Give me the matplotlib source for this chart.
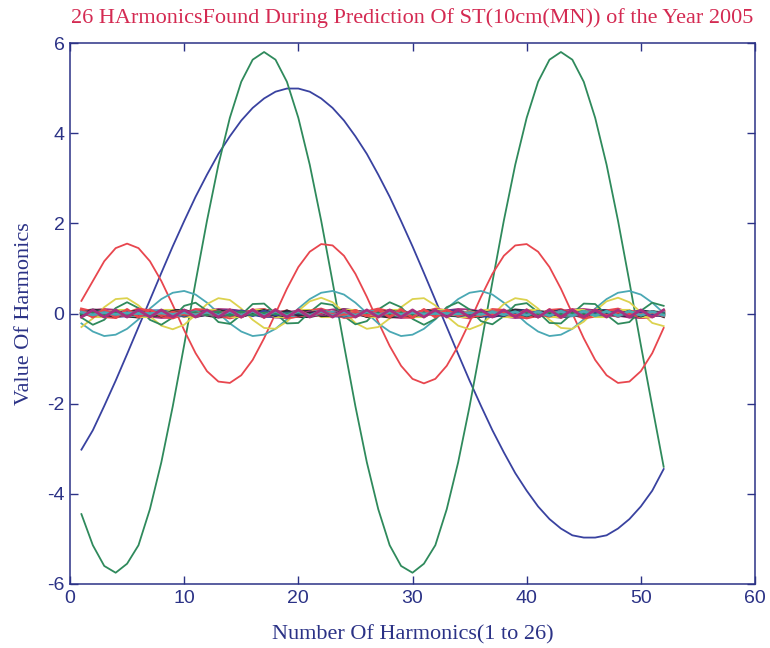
import matplotlib
matplotlib.use('Agg')
import matplotlib.pyplot as plt

# values of each harmonic at points 1..52
h1 = [-3.02, -2.59, -2.05, -1.49, -0.90, -0.30, 0.30, 0.90, 1.49, 2.05, 2.59, 3.08, 3.54,
      3.93, 4.28, 4.56, 4.77, 4.92, 4.99, 4.99, 4.92, 4.77, 4.56, 4.28, 3.93, 3.54,
      3.08, 2.59, 2.05, 1.49, 0.90, 0.30, -0.30, -0.90, -1.49, -2.05, -2.59, -3.08, -3.54,
      -3.93, -4.28, -4.56, -4.77, -4.92, -4.97, -4.97, -4.92, -4.77, -4.56, -4.28, -3.93, -3.45]
h2 = [-4.45, -5.14, -5.60, -5.75, -5.55, -5.14, -4.34, -3.30, -2.06, -0.70, 0.70, 2.06, 3.30,
      4.34, 5.14, 5.63, 5.80, 5.63, 5.14, 4.34, 3.30, 2.06, 0.70, -0.70, -2.06, -3.30,
      -4.34, -5.14, -5.60, -5.75, -5.55, -5.14, -4.34, -3.30, -2.06, -0.70, 0.70, 2.06, 3.30,
      4.34, 5.14, 5.63, 5.80, 5.63, 5.14, 4.34, 3.30, 2.06, 0.70, -0.70, -2.06, -3.40]
h3 = [0.28, 0.72, 1.16, 1.45, 1.55, 1.45, 1.16, 0.72, 0.19, -0.37, -0.88, -1.28, -1.51,
      -1.54, -1.37, -1.03, -0.55, 0.00, 0.55, 1.03, 1.37, 1.54, 1.51, 1.28, 0.88, 0.37,
      -0.19, -0.72, -1.16, -1.45, -1.55, -1.45, -1.16, -0.72, -0.19, 0.37, 0.88, 1.28, 1.51,
      1.54, 1.37, 1.03, 0.55, 0.00, -0.55, -1.03, -1.37, -1.54, -1.51, -1.28, -0.88, -0.32]
h4 = [-0.22, -0.40, -0.50, -0.47, -0.34, -0.13, 0.11, 0.32, 0.46, 0.50, 0.42, 0.24, 0.01,
      -0.22, -0.40, -0.50, -0.47, -0.34, -0.13, 0.11, 0.32, 0.46, 0.50, 0.42, 0.24, 0.01,
      -0.22, -0.40, -0.50, -0.47, -0.34, -0.13, 0.11, 0.32, 0.46, 0.50, 0.42, 0.24, 0.01,
      -0.22, -0.40, -0.50, -0.47, -0.34, -0.13, 0.11, 0.32, 0.46, 0.50, 0.42, 0.24, 0.01]
h5 = [0.04, 0.08, 0.10, 0.08, 0.04, -0.02, -0.07, -0.10, -0.09, -0.05, 0.01, 0.07, 0.10,
      0.09, 0.06, 0.00, -0.06, -0.09, -0.10, -0.07, -0.01, 0.05, 0.09, 0.10, 0.07, 0.02,
      -0.04, -0.08, -0.10, -0.08, -0.04, 0.02, 0.07, 0.10, 0.09, 0.05, -0.01, -0.07, -0.10,
      -0.09, -0.06, 0.00, 0.06, 0.09, 0.10, 0.07, 0.01, -0.05, -0.09, -0.10, -0.07, -0.02]
h6 = [-0.30, -0.11, 0.14, 0.32, 0.34, 0.18, -0.06, -0.27, -0.35, -0.25, -0.03, 0.21, 0.34,
      0.30, 0.11, -0.14, -0.32, -0.34, -0.18, 0.06, 0.27, 0.35, 0.25, 0.03, -0.21, -0.34,
      -0.30, -0.11, 0.14, 0.32, 0.34, 0.18, -0.06, -0.27, -0.35, -0.25, -0.03, 0.21, 0.34,
      0.30, 0.11, -0.14, -0.32, -0.34, -0.18, 0.06, 0.27, 0.35, 0.25, 0.03, -0.21, -0.28]
h7 = [0.06, 0.09, 0.06, -0.01, -0.07, -0.09, -0.04, 0.03, 0.08, 0.08, 0.02, -0.05, -0.09,
      -0.07, 0.00, 0.07, 0.09, 0.05, -0.02, -0.08, -0.08, -0.03, 0.04, 0.09, 0.07, 0.01,
      -0.06, -0.09, -0.06, 0.01, 0.07, 0.09, 0.04, -0.03, -0.08, -0.08, -0.02, 0.05, 0.09,
      0.07, 0.00, -0.07, -0.09, -0.05, 0.02, 0.08, 0.08, 0.03, -0.04, -0.09, -0.07, -0.01]
h8 = [0.08, 0.05, -0.03, -0.08, -0.06, 0.01, 0.07, 0.07, 0.01, -0.06, -0.08, -0.03, 0.05,
      0.08, 0.05, -0.03, -0.08, -0.06, 0.01, 0.07, 0.07, 0.01, -0.06, -0.08, -0.03, 0.05,
      0.08, 0.05, -0.03, -0.08, -0.06, 0.01, 0.07, 0.07, 0.01, -0.06, -0.08, -0.03, 0.05,
      0.08, 0.05, -0.03, -0.08, -0.06, 0.01, 0.07, 0.07, 0.01, -0.06, -0.08, -0.03, 0.05]
h9 = [-0.09, -0.25, -0.14, 0.12, 0.25, 0.12, -0.14, -0.25, -0.09, 0.17, 0.24, 0.06, -0.19,
      -0.23, -0.03, 0.21, 0.22, 0.00, -0.22, -0.21, 0.03, 0.23, 0.19, -0.06, -0.24, -0.17,
      0.09, 0.25, 0.14, -0.12, -0.25, -0.12, 0.14, 0.25, 0.09, -0.17, -0.24, -0.06, 0.19,
      0.23, 0.03, -0.21, -0.22, 0.00, 0.22, 0.21, -0.03, -0.23, -0.19, 0.06, 0.24, 0.17]
h10 = [0.10, 0.04, -0.07, -0.09, 0.01, 0.10, 0.06, -0.06, -0.10, -0.01, 0.09, 0.07, -0.04,
       -0.10, -0.04, 0.07, 0.09, -0.01, -0.10, -0.06, 0.06, 0.10, 0.01, -0.09, -0.07, 0.04,
       0.10, 0.04, -0.07, -0.09, 0.01, 0.10, 0.06, -0.06, -0.10, -0.01, 0.09, 0.07, -0.04,
       -0.10, -0.04, 0.07, 0.09, -0.01, -0.10, -0.06, 0.06, 0.10, 0.01, -0.09, -0.07, 0.04]
h11 = [-0.05, 0.01, 0.06, 0.01, -0.05, -0.04, 0.03, 0.06, -0.01, -0.06, -0.02, 0.05, 0.04,
       -0.03, -0.06, 0.00, 0.06, 0.03, -0.04, -0.05, 0.02, 0.06, 0.01, -0.06, -0.03, 0.04,
       0.05, -0.01, -0.06, -0.01, 0.05, 0.04, -0.03, -0.06, 0.01, 0.06, 0.02, -0.05, -0.04,
       0.03, 0.06, 0.00, -0.06, -0.03, 0.04, 0.05, -0.02, -0.06, -0.01, 0.06, 0.03, -0.04]
h12 = [0.01, 0.05, 0.01, -0.05, -0.02, 0.04, 0.03, -0.04, -0.04, 0.03, 0.04, -0.02, -0.05,
       0.01, 0.05, 0.01, -0.05, -0.02, 0.04, 0.03, -0.04, -0.04, 0.03, 0.04, -0.02, -0.05,
       0.01, 0.05, 0.01, -0.05, -0.02, 0.04, 0.03, -0.04, -0.04, 0.03, 0.04, -0.02, -0.05,
       0.01, 0.05, 0.01, -0.05, -0.02, 0.04, 0.03, -0.04, -0.04, 0.03, 0.04, -0.02, -0.05]
h13 = [0.07, -0.07, -0.07, 0.07, 0.07, -0.07, -0.07, 0.07, 0.07, -0.07, -0.07, 0.07, 0.07,
       -0.07, -0.07, 0.07, 0.07, -0.07, -0.07, 0.07, 0.07, -0.07, -0.07, 0.07, 0.07, -0.07,
       -0.07, 0.07, 0.07, -0.07, -0.07, 0.07, 0.07, -0.07, -0.07, 0.07, 0.07, -0.07, -0.07,
       0.07, 0.07, -0.07, -0.07, 0.07, 0.07, -0.07, -0.07, 0.07, 0.07, -0.07, -0.07, 0.07]
h14 = [-0.01, 0.07, -0.01, -0.07, 0.02, 0.06, -0.04, -0.05, 0.05, 0.04, -0.06, -0.02, 0.07,
       0.01, -0.07, 0.01, 0.07, -0.02, -0.06, 0.04, 0.05, -0.05, -0.04, 0.06, 0.02, -0.07,
       -0.01, 0.07, -0.01, -0.07, 0.02, 0.06, -0.04, -0.05, 0.05, 0.04, -0.06, -0.02, 0.07,
       0.01, -0.07, 0.01, 0.07, -0.02, -0.06, 0.04, 0.05, -0.05, -0.04, 0.06, 0.02, -0.07]
h15 = [0.05, 0.01, -0.06, 0.01, 0.05, -0.04, -0.03, 0.06, 0.01, -0.06, 0.02, 0.05, -0.04,
       -0.03, 0.06, 0.00, -0.06, 0.03, 0.04, -0.05, -0.02, 0.06, -0.01, -0.06, 0.03, 0.04,
       -0.05, -0.01, 0.06, -0.01, -0.05, 0.04, 0.03, -0.06, -0.01, 0.06, -0.02, -0.05, 0.04,
       0.03, -0.06, 0.00, 0.06, -0.03, -0.04, 0.05, 0.02, -0.06, 0.01, 0.06, -0.03, -0.04]
h16 = [-0.05, 0.02, 0.04, -0.04, -0.01, 0.05, -0.03, -0.03, 0.05, -0.01, -0.04, 0.04, 0.02,
       -0.05, 0.02, 0.04, -0.04, -0.01, 0.05, -0.03, -0.03, 0.05, -0.01, -0.04, 0.04, 0.02,
       -0.05, 0.02, 0.04, -0.04, -0.01, 0.05, -0.03, -0.03, 0.05, -0.01, -0.04, 0.04, 0.02,
       -0.05, 0.02, 0.04, -0.04, -0.01, 0.05, -0.03, -0.03, 0.05, -0.01, -0.04, 0.04, 0.02]
h17 = [0.03, -0.07, 0.04, 0.03, -0.07, 0.03, 0.04, -0.07, 0.03, 0.05, -0.07, 0.02, 0.05,
       -0.06, 0.01, 0.06, -0.06, 0.00, 0.06, -0.06, -0.01, 0.06, -0.05, -0.02, 0.07, -0.05,
       -0.03, 0.07, -0.04, -0.03, 0.07, -0.03, -0.04, 0.07, -0.03, -0.05, 0.07, -0.02, -0.05,
       0.06, -0.01, -0.06, 0.06, 0.00, -0.06, 0.06, 0.01, -0.06, 0.05, 0.02, -0.07, 0.05]
h18 = [-0.04, 0.02, 0.01, -0.04, 0.03, 0.00, -0.04, 0.04, 0.00, -0.03, 0.04, -0.01, -0.02,
       0.04, -0.02, -0.01, 0.04, -0.03, 0.00, 0.04, -0.04, 0.00, 0.03, -0.04, 0.01, 0.02,
       -0.04, 0.02, 0.01, -0.04, 0.03, 0.00, -0.04, 0.04, 0.00, -0.03, 0.04, -0.01, -0.02,
       0.04, -0.02, -0.01, 0.04, -0.03, 0.00, 0.04, -0.04, 0.00, 0.03, -0.04, 0.01, 0.02]
h19 = [-0.03, 0.05, -0.03, -0.01, 0.04, -0.05, 0.02, 0.02, -0.04, 0.04, -0.01, -0.03, 0.05,
       -0.04, 0.00, 0.04, -0.05, 0.03, 0.01, -0.04, 0.04, -0.02, -0.02, 0.05, -0.04, 0.01,
       0.03, -0.05, 0.03, 0.01, -0.04, 0.05, -0.02, -0.02, 0.04, -0.04, 0.01, 0.03, -0.05,
       0.04, 0.00, -0.04, 0.05, -0.03, -0.01, 0.04, -0.04, 0.02, 0.02, -0.05, 0.04, -0.01]
h20 = [0.03, -0.01, -0.02, 0.04, -0.04, 0.02, 0.01, -0.03, 0.04, -0.03, 0.00, 0.02, -0.04,
       0.03, -0.01, -0.02, 0.04, -0.04, 0.02, 0.01, -0.03, 0.04, -0.03, 0.00, 0.02, -0.04,
       0.03, -0.01, -0.02, 0.04, -0.04, 0.02, 0.01, -0.03, 0.04, -0.03, 0.00, 0.02, -0.04,
       0.03, -0.01, -0.02, 0.04, -0.04, 0.02, 0.01, -0.03, 0.04, -0.03, 0.00, 0.02, -0.04]
h21 = [-0.02, 0.05, -0.06, 0.05, -0.02, -0.01, 0.04, -0.06, 0.05, -0.03, -0.01, 0.04, -0.06,
       0.05, -0.04, 0.00, 0.04, -0.05, 0.06, -0.04, 0.01, 0.03, -0.05, 0.06, -0.04, 0.01,
       0.02, -0.05, 0.06, -0.05, 0.02, 0.01, -0.04, 0.06, -0.05, 0.03, 0.01, -0.04, 0.06,
       -0.05, 0.04, 0.00, -0.04, 0.05, -0.06, 0.04, -0.01, -0.03, 0.05, -0.06, 0.04, -0.01]
h22 = [0.02, -0.04, 0.05, -0.05, 0.03, -0.01, -0.01, 0.03, -0.05, 0.05, -0.04, 0.02, 0.00,
       -0.02, 0.04, -0.05, 0.05, -0.03, 0.01, 0.01, -0.03, 0.05, -0.05, 0.04, -0.02, 0.00,
       0.02, -0.04, 0.05, -0.05, 0.03, -0.01, -0.01, 0.03, -0.05, 0.05, -0.04, 0.02, 0.00,
       -0.02, 0.04, -0.05, 0.05, -0.03, 0.01, 0.01, -0.03, 0.05, -0.05, 0.04, -0.02, 0.00]
h23 = [0.00, 0.02, -0.03, 0.04, -0.04, 0.04, -0.03, 0.02, 0.00, -0.01, 0.02, -0.03, 0.04,
       -0.04, 0.04, -0.03, 0.01, 0.00, -0.01, 0.03, -0.04, 0.04, -0.04, 0.03, -0.02, 0.01,
       0.00, -0.02, 0.03, -0.04, 0.04, -0.04, 0.03, -0.02, 0.00, 0.01, -0.02, 0.03, -0.04,
       0.04, -0.04, 0.03, -0.01, 0.00, 0.01, -0.03, 0.04, -0.04, 0.04, -0.03, 0.02, -0.01]
h24 = [0.08, -0.08, 0.09, -0.09, 0.09, -0.08, 0.08, -0.05, 0.03, -0.02, -0.02, 0.03, -0.05,
       0.08, -0.08, 0.09, -0.09, 0.09, -0.08, 0.08, -0.05, 0.03, -0.02, -0.02, 0.03, -0.05,
       0.08, -0.08, 0.09, -0.09, 0.09, -0.08, 0.08, -0.05, 0.03, -0.02, -0.02, 0.03, -0.05,
       0.08, -0.08, 0.09, -0.09, 0.09, -0.08, 0.08, -0.05, 0.03, -0.02, -0.02, 0.03, -0.05]
h25 = [0.03, -0.03, 0.02, -0.02, 0.01, 0.00, 0.00, 0.01, -0.02, 0.02, -0.03, 0.03, -0.04,
       0.04, -0.04, 0.05, -0.05, 0.05, -0.05, 0.05, -0.05, 0.05, -0.05, 0.04, -0.04, 0.04,
       -0.03, 0.03, -0.02, 0.02, -0.01, 0.00, 0.00, -0.01, 0.02, -0.02, 0.03, -0.03, 0.04,
       -0.04, 0.04, -0.05, 0.05, -0.05, 0.05, -0.05, 0.05, -0.05, 0.05, -0.04, 0.04, -0.04]
h26 = [-0.08, 0.08, -0.08, 0.08, -0.08, 0.08, -0.08, 0.08, -0.08, 0.08, -0.08, 0.08, -0.08,
       0.08, -0.08, 0.08, -0.08, 0.08, -0.08, 0.08, -0.08, 0.08, -0.08, 0.08, -0.08, 0.08,
       -0.08, 0.08, -0.08, 0.08, -0.08, 0.08, -0.08, 0.08, -0.08, 0.08, -0.08, 0.08, -0.08,
       0.08, -0.08, 0.08, -0.08, 0.08, -0.08, 0.08, -0.08, 0.08, -0.08, 0.08, -0.08, 0.08]

harmonics = [h1, h2, h3, h4, h5, h6, h7, h8, h9, h10, h11, h12, h13,
             h14, h15, h16, h17, h18, h19, h20, h21, h22, h23, h24, h25, h26]

title = '26 HArmonicsFound During Prediction Of ST(10cm(MN)) of the Year 2005'
xlabel = 'Number Of Harmonics(1 to 26)'
ylabel = 'Value Of Harmonics'

# old matlab colour order, a bit washed out like the scan
colours = ['#3942a0', '#2f8a5c', '#e8464e', '#4aa8b4', '#a8307e', '#dcd24e', '#2c2c34']
navy = '#2b3286'

serif = ['Liberation Serif', 'DejaVu Serif']
narrow = ['Liberation Sans Narrow', 'Liberation Sans', 'DejaVu Sans']

plt.rcParams['axes.unicode_minus'] = False

fig = plt.figure(figsize=(7.7, 6.48), dpi=100)
ax = fig.add_axes([70 / 770, 1 - 584 / 648, 685 / 770, 541 / 648])

for i, h in enumerate(harmonics):
    lw = 1.3 if i < 9 else 2.0   # the thin band near zero looks heavier in the scan
    ax.plot(range(1, len(h) + 1), h, color=colours[i % 7], lw=lw)

ax.set_xlim(0, 60)
ax.set_ylim(-6, 6)
ax.set_xticks(range(0, 61, 10))
ax.set_yticks(range(-6, 7, 2))

for s in ax.spines.values():
    s.set_color(navy)
    s.set_linewidth(1.1)
ax.tick_params(direction='in', length=6, width=1, colors=navy,
               top=True, right=True, labelsize=14, pad=4)
for lab in ax.get_xticklabels() + ax.get_yticklabels():
    lab.set_family(narrow)

ax.set_xlabel(xlabel, family=serif, fontsize=16, color=navy, labelpad=13)
ax.set_ylabel(ylabel, family=serif, fontsize=16, color=navy, labelpad=9)
fig.text(412 / 770, 1 - 18 / 648, title, family=serif, fontsize=16,
         color='#d42a52', ha='center', va='center')

fig.savefig('out.png', dpi=100)
